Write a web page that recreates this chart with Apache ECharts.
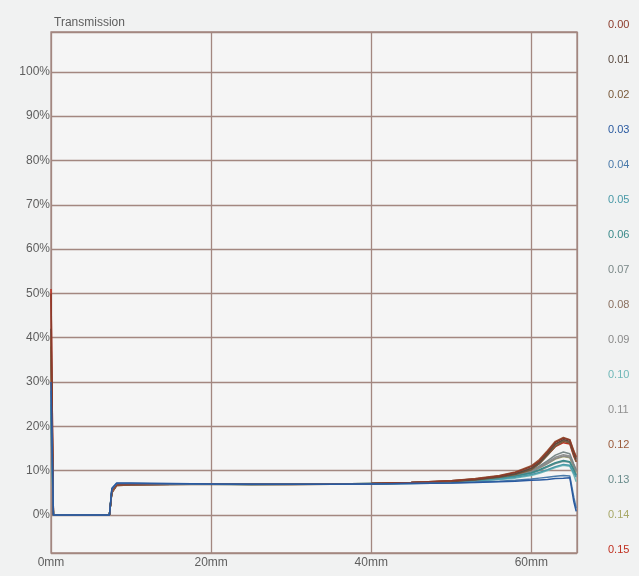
<!DOCTYPE html>
<html>
<head>
<meta charset="utf-8">
<script src="https://cdn.jsdelivr.net/npm/echarts@6/dist/echarts.min.js"></script>
<style>
html,body{margin:0;padding:0;background:#f1f2f2;}
#c{width:639px;height:576px;}
</style>
</head>
<body>
<div id="c"></div>
<script>
// Position along the sample (mm)
var positions = [0, 0.3, 7.3, 7.6, 8.2, 10, 15, 20, 25, 30, 35, 40, 45, 50, 53, 56, 58, 60, 61, 62, 63, 64, 64.8, 65.3, 65.6];

var seriesNames = ['0.00','0.01','0.02','0.03','0.04','0.05','0.06','0.07','0.08','0.09','0.10','0.11','0.12','0.13','0.14','0.15'];
var seriesColors = ['#8b3a2a','#5a4a40','#7a5a3a','#2a5aa0','#4a7aaa','#4a9aa8','#3a8a8a','#7a8888','#8a7060','#8a8a8a','#70b8b8','#909090','#9a5a3a','#6a8c8c','#a8a868','#c03020'];

// Transmission (%) per series
var s000 = [50,0,0,5.6,6.8,6.9,7.0,7.0,6.9,6.9,7.0,7.1,7.3,7.7,8.1,8.8,9.6,10.9,12.2,14.2,16.4,17.3,16.9,14.2,13.0];
var s001 = [42,0,0,5.2,6.7,6.8,6.9,6.9,6.9,6.9,7.0,7.1,7.3,7.6,8.0,8.6,9.3,10.5,11.8,13.8,16.0,17.0,16.6,13.8,12.5];
var s002 = [38,0,0,5.0,6.6,6.8,6.8,6.9,6.8,6.8,6.9,7.0,7.2,7.5,7.9,8.5,9.1,10.2,11.5,13.4,15.5,16.6,16.2,13.5,12.0];
var s003 = [30,0,0,6.0,7.2,7.2,7.1,7.0,6.9,6.9,6.9,7.0,7.1,7.2,7.3,7.5,7.6,7.8,7.9,8.0,8.2,8.3,8.4,3.0,0.8];
var s004 = [28,0,0,5.8,7.1,7.1,7.0,6.9,6.9,6.9,6.9,7.0,7.1,7.2,7.4,7.6,7.8,8.1,8.3,8.5,8.7,8.9,8.8,4.0,1.5];
var s005 = [26,0,0,5.6,7.0,7.0,6.9,6.9,6.9,6.9,7.0,7.0,7.2,7.4,7.7,8.1,8.5,9.1,9.6,10.2,10.9,11.4,11.2,9.5,8.5];
var s006 = [25,0,0,5.4,6.9,7.0,6.9,6.9,6.9,6.9,7.0,7.1,7.2,7.5,7.8,8.3,8.8,9.5,10.2,11.0,11.8,12.3,12.0,10.2,9.0];
var s007 = [24,0,0,5.3,6.8,6.9,6.9,6.9,6.9,6.9,7.0,7.1,7.3,7.6,8.0,8.6,9.2,10.1,11.0,12.2,13.5,14.2,13.8,11.5,10.2];
var s008 = [35,0,0,5.1,6.7,6.8,6.9,6.9,6.9,6.9,7.0,7.1,7.3,7.7,8.1,8.7,9.4,10.6,11.9,13.9,15.9,16.8,16.4,13.9,12.8];
var s009 = [22,0,0,5.2,6.8,6.9,6.9,6.9,6.9,6.9,7.0,7.1,7.2,7.5,7.9,8.4,8.9,9.8,10.6,11.6,12.7,13.3,13.0,11.0,9.8];
var s010 = [20,0,0,5.5,6.9,7.0,6.9,6.9,6.8,6.9,6.9,7.0,7.1,7.3,7.6,8.0,8.3,8.9,9.4,10.0,10.7,11.2,11.0,9.0,7.5];
var s011 = [20,0,0,5.3,6.8,6.9,6.9,6.9,6.9,6.9,7.0,7.1,7.2,7.5,7.9,8.4,9.0,9.9,10.8,11.9,13.0,13.6,13.3,11.2,10.0];
var s012 = [40,0,0,5.0,6.7,6.8,6.9,6.9,6.9,6.9,7.0,7.1,7.3,7.7,8.2,8.9,9.7,11.1,12.5,14.5,16.6,17.5,17.0,14.5,13.2];
var s013 = [22,0,0,5.4,6.9,6.9,6.9,6.9,6.9,6.9,7.0,7.0,7.2,7.4,7.8,8.2,8.7,9.4,10.0,10.8,11.6,12.1,11.9,10.0,8.8];
var s014 = [24,0,0,5.3,6.8,6.9,6.9,6.9,6.9,6.9,7.0,7.1,7.2,7.5,7.9,8.4,9.0,9.8,10.6,11.6,12.6,13.2,12.9,10.8,9.6];
var s015 = [51,0,0,5.2,6.7,6.8,6.9,6.9,6.9,6.9,7.0,7.1,7.3,7.6,8.0,8.6,9.3,10.5,11.7,13.5,15.4,16.3,16.0,13.2,12.0];

var seriesValues = [s000,s001,s002,s003,s004,s005,s006,s007,s008,s009,s010,s011,s012,s013,s014,s015];

// draw order: brown/gray first, blue last so it sits on top of the flat part
var drawOrder = [15,14,13,11,10,9,7,6,5,8,2,1,12,0,4,3];

var chart = echarts.init(document.getElementById('c'), null, {renderer:'canvas'});
var gridColor = '#a38780';
var fontFam = 'Liberation Sans, Arial, sans-serif';
var series = drawOrder.map(function(i){
  return {
    name: seriesNames[i],
    type: 'line',
    showSymbol: false,
    symbol: 'none',
    color: seriesColors[i],
    lineStyle: {width: 1.5, color: seriesColors[i]},
    data: positions.map(function(x, k){ return [x, seriesValues[i][k]]; }),
    z: 3
  };
});

chart.setOption({
  animation: false,
  backgroundColor: '#f1f2f2',
  title: {
    text: 'Transmission',
    left: 49, top: 12,
    textStyle: {fontFamily: fontFam, fontSize: 12, fontWeight: 'normal', color: '#5e5e5e'}
  },
  legend: {
    orient: 'vertical',
    left: 598, top: 13,
    itemWidth: 0, itemHeight: 14, itemGap: 21,
    icon: 'rect',
    itemStyle: {opacity: 0},
    selectedMode: false,
    data: seriesNames.map(function(n, i){
      return {name: n, textStyle: {color: seriesColors[i]}};
    }),
    textStyle: {fontFamily: fontFam, fontSize: 11}
  },
  grid: {
    left: 51, right: 62, top: 32, bottom: 23,
    show: true, borderColor: gridColor, borderWidth: 1.3,
    backgroundColor: '#f5f5f5'
  },
  xAxis: {
    type: 'value',
    min: 0, max: 65.7, interval: 20,
    axisLine: {show: false},
    axisTick: {show: false},
    splitLine: {show: true, lineStyle: {color: gridColor, width: 1.3}},
    axisLabel: {
      margin: 4,
      color: '#5e5e5e',
      fontFamily: fontFam, fontSize: 12,
      showMaxLabel: false,
      formatter: function(v){ return (Math.abs(v % 20) < 1e-6) ? (v + 'mm') : ''; }
    }
  },
  yAxis: {
    type: 'value',
    min: -8.6, max: 109, splitNumber: 12,
    axisLine: {show: false},
    axisTick: {show: false},
    splitLine: {show: true, lineStyle: {color: gridColor, width: 1.3}},
    axisLabel: {
      margin: 1,
      color: '#5e5e5e',
      fontFamily: fontFam, fontSize: 12,
      formatter: function(v){
        var r = Math.round(v);
        return (Math.abs(v - r) < 1e-6 && r % 10 === 0 && r >= 0 && r <= 100) ? (r + '%') : '';
      }
    }
  },
  series: series
});
</script>
</body>
</html>
